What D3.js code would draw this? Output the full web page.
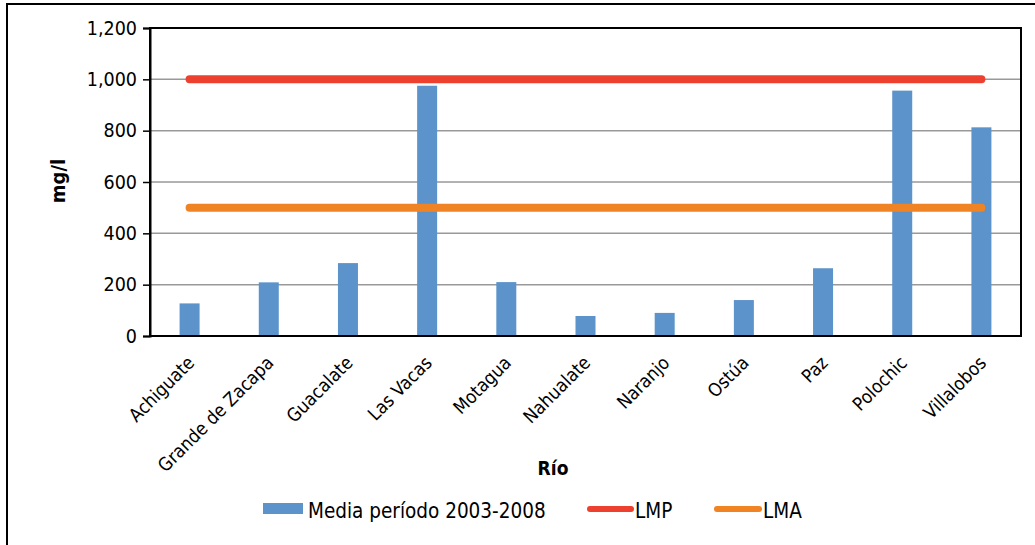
<!DOCTYPE html>
<html><head><meta charset="utf-8">
<script src="https://cdn.jsdelivr.net/npm/d3@7"></script>
<style>body{margin:0;background:#fff}svg{display:block}text{font-family:"DejaVu Sans Condensed","DejaVu Sans",sans-serif;font-stretch:condensed;fill:#000}</style>
</head><body><svg id="c" width="1035" height="545"></svg>
<script>
const categories = ["Achiguate","Grande de Zacapa","Guacalate","Las Vacas","Motagua","Nahualate","Naranjo","Ostúa","Paz","Polochic","Villalobos"];
const media = [127, 209, 284, 975, 210, 78, 90, 140, 264, 956, 813];
const lmp = [1000,1000,1000,1000,1000,1000,1000,1000,1000,1000,1000];
const lma = [500,500,500,500,500,500,500,500,500,500,500];
const yTicks = [0,200,400,600,800,1000,1200];
const seriesNames = ["Media período 2003-2008","LMP","LMA"];

const svg = d3.select("#c");
const L=150, R=1021, T=28, B=336;
svg.append("rect").attr("x",7).attr("y",4).attr("width",1040).attr("height",560).attr("fill","none").attr("stroke","#000").attr("stroke-width",2);

const x = d3.scaleBand().domain(categories).range([L,R]);
const y = d3.scaleLinear().domain([0,1200]).range([B,T]);
const fmt = d3.format(",");

svg.append("g").selectAll("line").data(yTicks.slice(1)).join("line")
  .attr("x1",L).attr("x2",R).attr("y1",d=>y(d)).attr("y2",d=>y(d))
  .attr("stroke","#999").attr("stroke-width",1.5);

const bw = 20;
svg.append("g").selectAll("rect").data(media).join("rect")
  .attr("x",(d,i)=>x(categories[i])+x.bandwidth()/2-bw/2)
  .attr("width",bw).attr("y",d=>y(d)).attr("height",d=>B-y(d))
  .attr("fill","#5B93CA");

const line = d3.line().x((d,i)=>x(categories[i])+x.bandwidth()/2).y(d=>y(d));
svg.append("path").datum(lmp).attr("d",line).attr("fill","none").attr("stroke","#EE402E").attr("stroke-width",8).attr("stroke-linecap","round");
svg.append("path").datum(lma).attr("d",line).attr("fill","none").attr("stroke","#F08425").attr("stroke-width",8).attr("stroke-linecap","round");

svg.append("rect").attr("x",L).attr("y",T).attr("width",R-L).attr("height",B-T).attr("fill","none").attr("stroke","#000").attr("stroke-width",2);

const ya = svg.append("g").attr("transform",`translate(${L},0)`)
  .call(d3.axisLeft(y).tickValues(yTicks).tickFormat(fmt).tickSize(7).tickPadding(6));
ya.attr("font-family",null);
ya.select(".domain").attr("stroke","#000").attr("stroke-width",2);
ya.selectAll(".tick line").attr("stroke","#000").attr("stroke-width",1.5);
ya.selectAll("text").attr("font-size",19.5).attr("fill","#000");

svg.append("g").selectAll("text").data(categories).join("text")
  .attr("transform",d=>`translate(${x(d)+x.bandwidth()/2+6},${B+28}) rotate(-45)`)
  .attr("text-anchor","end").attr("font-size",18.5).text(d=>d);

svg.append("text").attr("x",553).attr("y",475).attr("text-anchor","middle").attr("font-size",19).attr("font-weight","bold").text("Río");
svg.append("text").attr("transform","translate(65,181) rotate(-90)").attr("text-anchor","middle").attr("font-size",20).attr("font-weight","bold").text("mg/l");

const lg = svg.append("g");
lg.append("rect").attr("x",263).attr("y",503).attr("width",40).attr("height",11).attr("fill","#5B93CA");
lg.append("text").attr("x",308).attr("y",518).attr("font-size",20.5).text(seriesNames[0]);
lg.append("line").attr("x1",590).attr("x2",631).attr("y1",509).attr("y2",509).attr("stroke","#EE402E").attr("stroke-width",6).attr("stroke-linecap","round");
lg.append("text").attr("x",635).attr("y",518).attr("font-size",20.5).text(seriesNames[1]);
lg.append("line").attr("x1",717).attr("x2",759).attr("y1",509).attr("y2",509).attr("stroke","#F08425").attr("stroke-width",6).attr("stroke-linecap","round");
lg.append("text").attr("x",763).attr("y",518).attr("font-size",20.5).text(seriesNames[2]);
</script></body></html>
